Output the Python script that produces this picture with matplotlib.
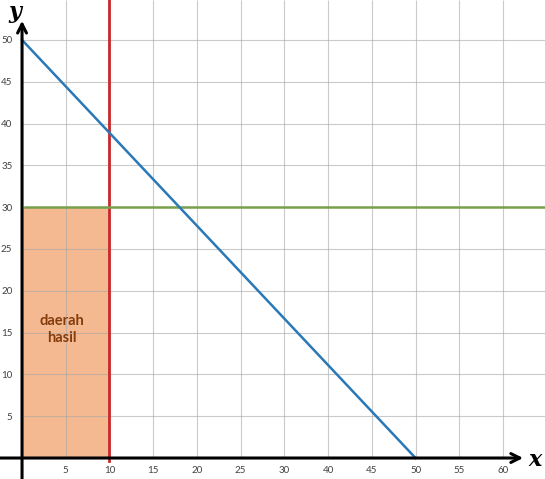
import numpy as np
import matplotlib
matplotlib.use("Agg")
import matplotlib.pyplot as plt

# tick labels as printed on the picture (note: 35 is skipped on the x axis)
x_labels = [5, 10, 15, 20, 25, 30, 40, 45, 50, 55, 60]
y_labels = [5, 10, 15, 20, 25, 30, 35, 40, 45, 50]

# constraint lines (in axis-label units)
line_x = [0, 50]        # blue: from (0, 50) to (50, 0)
line_y = [50, 0]
x_limit = 10            # red vertical line
y_limit = 30            # green horizontal line
region_x = [0, 10]      # shaded feasible region
region_y = [0, 30]
region_text = "daerah\nhasil"

# the printed x labels are not evenly spaced: map label value -> grid position
lab_pts = np.array([-10, 0, 5, 10, 15, 20, 25, 30, 40, 45, 50, 55, 60, 70], float)
pos_pts = np.array([-10, 0, 5, 10, 15, 20, 25, 30, 35, 40, 45, 50, 55, 65], float)


def fwd(v):
    return np.interp(v, lab_pts, pos_pts)


def inv(v):
    return np.interp(v, pos_pts, lab_pts)


fig = plt.figure(figsize=(5.45, 4.79), dpi=100)
ax = fig.add_axes([0, 0, 1, 1])
ax.set_xscale("function", functions=(fwd, inv))
ax.set_xlim(inv(-2.52), inv(59.8))
ax.set_ylim(-2.51, 54.78)

for s in ax.spines.values():
    s.set_visible(False)
ax.spines["left"].set_position(("data", 0))
ax.spines["bottom"].set_position(("data", 0))

xmax = inv(59.8)
ymax = 54.78

# shaded region
ax.fill_between(region_x, region_y[0], region_y[1], color="#F5B991", lw=0, zorder=1)

# grid
ax.vlines(x_labels, 0, ymax, color="#A8A8A8", lw=0.8, alpha=0.6, zorder=2)
ax.hlines(y_labels, 0, xmax, color="#A8A8A8", lw=0.8, alpha=0.6, zorder=2)

# constraint lines
ax.plot([x_limit, x_limit], [-0.4, ymax], color="#C8282A", lw=2.0, zorder=4)
ax.plot([0.3, xmax], [y_limit, y_limit], color="#76A04C", lw=1.8, zorder=4)
ax.plot(line_x, line_y, color="#2A78B6", lw=1.8, zorder=5)

# axes with arrows
ax.annotate("", xy=(inv(57.3), 0), xytext=(inv(-2.52), 0),
            arrowprops=dict(arrowstyle="->", lw=2.2, color="black",
                            mutation_scale=16, shrinkA=0, shrinkB=0), zorder=6)
ax.annotate("", xy=(0, 52.3), xytext=(0, -2.51),
            arrowprops=dict(arrowstyle="->", lw=2.2, color="black",
                            mutation_scale=16, shrinkA=0, shrinkB=0), zorder=6)

ax.text(inv(58.7), -0.2, "x", family="DejaVu Serif", style="italic",
        weight="bold", fontsize=16, ha="center", va="center")
ax.text(-0.85, 53.4, "y", family="DejaVu Serif", style="italic",
        weight="bold", fontsize=16, ha="center", va="center")

# tick labels
ax.set_xticks(x_labels)
ax.set_xticklabels([str(v) for v in x_labels])
ax.set_yticks(y_labels)
ax.set_yticklabels([str(v) for v in y_labels])
ax.xaxis.set_minor_locator(matplotlib.ticker.NullLocator())
ax.tick_params(axis="x", length=0, pad=6, labelsize=7, labelcolor="#404040")
ax.tick_params(axis="y", length=0, pad=7, labelsize=7, labelcolor="#404040")
for t in ax.get_xticklabels() + ax.get_yticklabels():
    t.set_family("Lato")

ax.text(4.6, 15.4, region_text, ha="center", va="center", fontsize=10.5,
        family="Lato", weight="bold", color="#843C0C", linespacing=1.25, zorder=6)

fig.savefig("out.png", dpi=100)
